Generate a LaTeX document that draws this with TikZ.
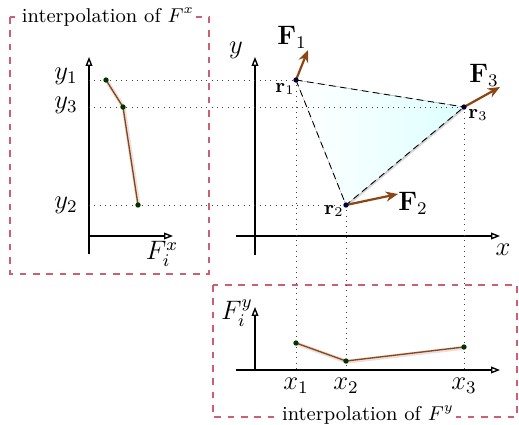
\documentclass[tikz,border=0pt]{standalone}
\usepackage{amsmath, amssymb}
\usepackage{tikz}
\usepackage{xcolor}
\usetikzlibrary{arrows.meta, shadows}

\definecolor{forcebrown}{RGB}{140,70,20}
\definecolor{boxred}{RGB}{205,95,115}

\tikzset{
  axis/.style={-{Triangle[open,length=4pt,width=3pt]}, semithick},
  guide/.style={dotted, black!75},
  panel/.style={dashed, boxred, semithick},
  caption/.style={fill=white, inner sep=1pt, font=\small},
  force/.style={-{Stealth[length=5.5pt,width=4.5pt]}, forcebrown, line width=1pt},
  interp/.style={forcebrown, semithick,
    preaction={draw=red!30!black!12, line width=1.8pt, transform canvas={shift={(0.3pt,-0.3pt)}}}},
  dot/.style={circle, fill=black!80!green, inner sep=0pt, minimum size=2.4pt},
}

\begin{document}
\begin{tikzpicture}[x=0.45pt, y=-0.45pt]
\useasboundingbox (0,0) rectangle (519,424);

% element nodes and force ends
\coordinate (r1) at (296,80);
\coordinate (r2) at (346,205);
\coordinate (r3) at (464,107);
\coordinate (f1) at (308,50);
\coordinate (f2) at (398,194);
\coordinate (f3) at (500,87);

% Panels
\draw[panel] (10,17) rectangle (209,274);
\draw[panel] (213,285) rectangle (517,417);
\node[caption] (tx) at (108,17) {interpolation of $F^x$};
\node[caption] (ty) at (368,415) {interpolation of $F^y$};

% Triangle
\fill[left color=white, right color=cyan!13, drop shadow={opacity=0.3, shadow xshift=0.7pt, shadow yshift=-0.7pt}]
  (r1) -- (r2) -- (r3) -- cycle;
\draw[densely dashed, thin] (r1) -- (r3);
\draw[densely dashed, thin] (r1) -- (r2) -- (r3);

% Main axes
\coordinate (oy0) at (255,255);
\coordinate (oy1) at (255,57);
\coordinate (ox0) at (236,236);
\coordinate (ox1) at (500,236);
\draw[axis] (oy0) -- (oy1);
\draw[axis] (ox0) -- (ox1);
\node (ylab) at (236,50) {\large $y$};
\node (xlab) at (503,250) {\large $x$};

% Left axes (F^x)
\coordinate (lv0) at (89,254);
\coordinate (lv1) at (89,57);
\coordinate (lh0) at (89,236);
\coordinate (lh1) at (173,236);
\draw[axis] (lv0) -- (lv1);
\draw[axis] (lh0) -- (lh1);
\node (fxlab) at (162,254) {\large $F_i^x$};

% Bottom axes (F^y)
\coordinate (bv0) at (255,370);
\coordinate (bv1) at (255,307);
\coordinate (bh0) at (236,370);
\coordinate (bh1) at (500,370);
\draw[axis] (bv0) -- (bv1);
\draw[axis] (bh0) -- (bh1);
\node (fylab) at (237,313) {\large $F_i^y$};

% Guide lines
\foreach \i/\yy in {1/80,2/205,3/107} {
  \coordinate (h\i) at (89,\yy);
  \draw[guide] (h\i) -- (r\i);
}
\foreach \i/\xx in {1/296,2/346,3/464} {
  \coordinate (v\i) at (\xx,370);
  \draw[guide] (r\i) -- (v\i);
}

% Interpolation of F^x
\coordinate (a1) at (106,80);
\coordinate (a3) at (123,107);
\coordinate (a2) at (138,205);
\draw[interp] (a1) -- (a3) -- (a2);
\foreach \p in {a1,a2,a3} \node[dot] at (\p) {};
\node (y1) at (66,76) {\large $y_1$};
\node (y3) at (66,105) {\large $y_3$};
\node (y2) at (66,205) {\large $y_2$};

% Interpolation of F^y
\coordinate (b1) at (296,343);
\coordinate (b2) at (346,361);
\coordinate (b3) at (464,347);
\draw[interp] (b1) -- (b2) -- (b3);
\foreach \p in {b1,b2,b3} \node[dot] at (\p) {};
\node (x1) at (296,386) {\large $x_1$};
\node (x2) at (346,386) {\large $x_2$};
\node (x3) at (464,386) {\large $x_3$};

% Forces
\draw[force] (r1) -- (f1);
\draw[force] (r2) -- (f2);
\draw[force] (r3) -- (f3);
\foreach \p in {r1,r2,r3} \node[dot, fill=black!80!blue] at (\p) {};
\node (F1) at (292,37) {\large $\mathbf{F}_1$};
\node (F2) at (413,203) {\large $\mathbf{F}_2$};
\node (F3) at (484,75) {\large $\mathbf{F}_3$};
\node (lr1) at (285,89) {\small $\mathbf{r}_1$};
\node (lr2) at (334,211) {\small $\mathbf{r}_2$};
\node (lr3) at (478,115) {\small $\mathbf{r}_3$};
\end{tikzpicture}
\end{document}
